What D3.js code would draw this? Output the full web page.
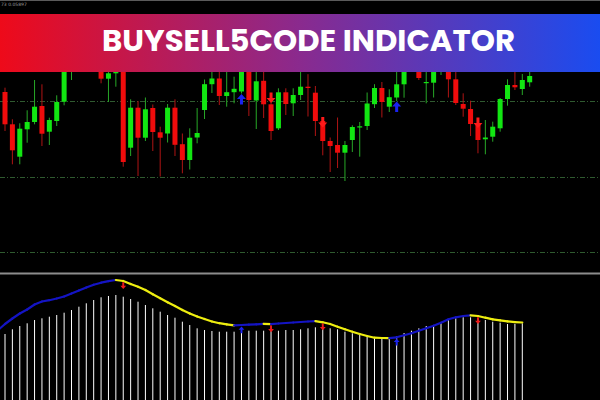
<!DOCTYPE html>
<html>
<head>
<meta charset="utf-8">
<script src="https://cdn.jsdelivr.net/npm/d3@7"></script>
<style>
  body { margin: 0; background: #000; }
  svg { display: block; }
</style>
</head>
<body>
<script>
var width = 600,
    height = 400;

// candles, one entry per bar
var opens = [1.07095, 1.06772, 1.06448, 1.06722, 1.06795, 1.06955, 1.06698, 1.06805, 1.06998, 1.07335,
  1.07565, 1.07435, 1.07595, 1.07395, 1.07228, 1.07282, 1.07415, 1.06538, 1.06938, 1.06638,
  1.06935, 1.06692, 1.06680, 1.06938, 1.06573, 1.06415, 1.06640, 1.06915, 1.07173, 1.07230,
  1.07055, 1.07093, 1.07100, 1.07415, 1.07010, 1.07207, 1.06972, 1.06732, 1.07092, 1.06982,
  1.07065, 1.07148, 1.07088, 1.06805, 1.06605, 1.06565, 1.06488, 1.06615, 1.06740, 1.06755,
  1.06973, 1.07135, 1.06948, 1.07040, 1.07172, 1.07515, 1.07415, 1.07190, 1.07188, 1.07355,
  1.07375, 1.07222, 1.06975, 1.06925, 1.06765, 1.06622, 1.06648, 1.06732, 1.07025, 1.07165,
  1.07125, 1.07192];
var highs = [1.07138, 1.06822, 1.06782, 1.06912, 1.07215, 1.07172, 1.06838, 1.07062, 1.07515, 1.07635,
  1.07665, 1.07695, 1.07665, 1.07495, 1.07415, 1.07435, 1.07515, 1.07022, 1.07005, 1.07040,
  1.06970, 1.06748, 1.06975, 1.07022, 1.06680, 1.06732, 1.06935, 1.07220, 1.07355, 1.07335,
  1.07375, 1.07248, 1.07465, 1.07495, 1.07395, 1.07375, 1.07080, 1.07132, 1.07132, 1.07132,
  1.07415, 1.07273, 1.07155, 1.06835, 1.06640, 1.06840, 1.06605, 1.06762, 1.06795, 1.07090,
  1.07173, 1.07195, 1.07122, 1.07375, 1.07415, 1.07615, 1.07535, 1.07355, 1.07435, 1.07575,
  1.07465, 1.07355, 1.07082, 1.07008, 1.06830, 1.06815, 1.06798, 1.07035, 1.07222, 1.07355,
  1.07275, 1.07315];
var lows = [1.06705, 1.06372, 1.06372, 1.06588, 1.06772, 1.06555, 1.06565, 1.06755, 1.06962, 1.07215,
  1.07365, 1.07355, 1.07335, 1.07182, 1.06995, 1.07148, 1.06348, 1.06455, 1.06255, 1.06605,
  1.06505, 1.06250, 1.06590, 1.06455, 1.06282, 1.06320, 1.06582, 1.06825, 1.07085, 1.06965,
  1.06948, 1.06982, 1.07080, 1.06855, 1.06725, 1.06835, 1.06615, 1.06715, 1.06865, 1.06855,
  1.07015, 1.06850, 1.06655, 1.06462, 1.06295, 1.06335, 1.06205, 1.06495, 1.06448, 1.06715,
  1.06935, 1.06840, 1.06895, 1.07005, 1.07038, 1.07375, 1.07215, 1.06982, 1.07040, 1.07265,
  1.07040, 1.06965, 1.06848, 1.06655, 1.06482, 1.06472, 1.06598, 1.06698, 1.06958, 1.07115,
  1.07065, 1.07148];
var closes = [1.06772, 1.06512, 1.06728, 1.06795, 1.06948, 1.06678, 1.06815, 1.06995, 1.07415, 1.07565,
  1.07465, 1.07615, 1.07415, 1.07228, 1.07282, 1.07355, 1.06395, 1.06938, 1.06638, 1.06922,
  1.06695, 1.06638, 1.06938, 1.06567, 1.06415, 1.06638, 1.06685, 1.07173, 1.07230, 1.07055,
  1.07093, 1.07127, 1.07395, 1.07015, 1.07202, 1.06972, 1.06705, 1.07092, 1.06975, 1.07065,
  1.07148, 1.07135, 1.06805, 1.06605, 1.06555, 1.06488, 1.06565, 1.06745, 1.06752, 1.06980,
  1.07135, 1.06995, 1.07043, 1.07172, 1.07355, 1.07435, 1.07235, 1.07195, 1.07375, 1.07515,
  1.07222, 1.06985, 1.06928, 1.06775, 1.06615, 1.06640, 1.06748, 1.07025, 1.07165, 1.07142,
  1.07215, 1.07255];

var gridLevels = [1.0700, 1.0625, 1.0550];

var buyBars = [32, 53];
var sellBars = [16, 36, 43, 64];

// oscillator histogram, bars 0..70
var histValues = [66, 70.7, 74, 76.7, 80, 81.7, 83.3, 85, 87.3, 90,
  93.3, 96.7, 100, 102.7, 104, 105, 103.3, 101, 98.3, 95,
  91.7, 88.3, 85, 82.3, 78.3, 75, 71.7, 70, 69, 68.3,
  68.3, 68.3, 68.3, 69.3, 69.3, 69.3, 70, 69.3, 70, 70,
  70.7, 71.7, 72.7, 72.3, 71.7, 70.7, 68.3, 66.7, 65, 63.3,
  61.7, 61.5, 62, 64, 67, 69.3, 71.7, 74, 75, 77.3,
  80, 81.7, 82.7, 82.7, 80.7, 80, 78.3, 77.3, 76, 76,
  76.7];

// signal line, bars -1..70 (first point is the bar left of the screen)
var lineStart = -1;
var lineValues = [69.5, 76, 81.5, 86.5, 90.5, 95.5, 98.5, 99.8, 101.5, 103.5,
  106.5, 109.5, 112.5, 115.3, 117.3, 118.8, 120, 119, 116, 113.3,
  110, 105.7, 101.7, 97.7, 94, 90, 86.5, 83.5, 81, 78.5,
  76.8, 75.6, 74.7, 75.0, 75.3, 75.7, 76.2, 75.8, 76.5, 77,
  77.5, 78, 78.5, 78.8, 77.7, 76, 73.3, 70.7, 68.3, 66,
  64, 62.3, 62.0, 61.8, 62.7, 64.7, 66.7, 69.3, 71.7, 74.3,
  77.3, 80.7, 82.7, 84, 84.7, 84, 82.3, 80.7, 79.7, 78.7,
  77.8, 77.5];

var title = "BUYSELL5CODE INDICATOR";
var symbolText = "73 0.05897";

var bull = "#12e612", bullWick = "#27a827",
    bear = "#f00c0c", bearWick = "#b01414";

var x = d3.scaleLinear()
    .domain([0, 70])
    .range([5, 522.3]);

var y = d3.scaleLinear()
    .domain([1.08015, 1.05315])
    .range([0, 270]);

var yOsc = d3.scaleLinear()
    .domain([0, 126])
    .range([400, 274]);

var svg = d3.select("body").append("svg")
    .attr("width", width)
    .attr("height", height);

svg.append("rect")
    .attr("width", width)
    .attr("height", height)
    .attr("fill", "#000");

var defs = svg.append("defs");

defs.append("clipPath")
    .attr("id", "upper")
  .append("rect")
    .attr("width", width)
    .attr("height", 272);

var grad = defs.append("linearGradient")
    .attr("id", "banner")
    .attr("x1", "0%").attr("x2", "100%")
    .attr("y1", "0%").attr("y2", "0%");
grad.selectAll("stop")
    .data([["0%", "#ee0a1a"], ["50%", "#8a2a8e"], ["100%", "#1a4cf0"]])
  .enter().append("stop")
    .attr("offset", function(d) { return d[0]; })
    .attr("stop-color", function(d) { return d[1]; });

// upper pane
var upper = svg.append("g")
    .attr("clip-path", "url(#upper)");

upper.selectAll(".grid")
    .data(gridLevels)
  .enter().append("line")
    .attr("class", "grid")
    .attr("x1", 0)
    .attr("x2", width)
    .attr("y1", function(d) { return Math.round(y(d)) + 0.5; })
    .attr("y2", function(d) { return Math.round(y(d)) + 0.5; })
    .attr("stroke", "#2f5a2f")
    .attr("stroke-dasharray", "5,2,1,2");

var candles = d3.range(opens.length);

upper.selectAll(".wick")
    .data(candles)
  .enter().append("line")
    .attr("class", "wick")
    .attr("x1", function(i) { return x(i); })
    .attr("x2", function(i) { return x(i); })
    .attr("y1", function(i) { return y(highs[i]); })
    .attr("y2", function(i) { return y(lows[i]); })
    .attr("stroke", function(i) { return closes[i] >= opens[i] ? bullWick : bearWick; })
    .attr("stroke-width", 1);

upper.selectAll(".body")
    .data(candles)
  .enter().append("rect")
    .attr("class", "body")
    .attr("x", function(i) { return x(i) - 2.5; })
    .attr("width", 5)
    .attr("y", function(i) { return y(Math.max(opens[i], closes[i])); })
    .attr("height", function(i) { return Math.max(1.2, Math.abs(y(opens[i]) - y(closes[i]))); })
    .attr("fill", function(i) { return closes[i] >= opens[i] ? bull : bear; });

// arrow pointing up, tip at the origin
var arrowUp = "M0,0L4.5,5L1.5,5L1.5,10.5L-1.5,10.5L-1.5,5L-4.5,5Z";

upper.selectAll(".buy")
    .data(buyBars)
  .enter().append("path")
    .attr("class", "buy")
    .attr("d", arrowUp)
    .attr("fill", "#1a22f0")
    .attr("transform", function(i) { return "translate(" + x(i) + "," + (y(lows[i]) + 0.5) + ")"; });

upper.selectAll(".sell")
    .data(sellBars)
  .enter().append("path")
    .attr("class", "sell")
    .attr("d", arrowUp)
    .attr("fill", "#ff1a1a")
    .attr("transform", function(i) { return "translate(" + x(i) + "," + (y(highs[i]) + 9.5) + ") scale(1,-1)"; });

// pane separator
svg.append("line")
    .attr("x1", 0).attr("x2", width)
    .attr("y1", 273.5).attr("y2", 273.5)
    .attr("stroke", "#8c8c8c")
    .attr("stroke-width", 2);

// lower pane
var lower = svg.append("g");

lower.selectAll(".hist")
    .data(histValues)
  .enter().append("line")
    .attr("class", "hist")
    .attr("x1", function(d, i) { return x(i); })
    .attr("x2", function(d, i) { return x(i); })
    .attr("y1", function(d) { return yOsc(d); })
    .attr("y2", height)
    .attr("stroke", "#fff")
    .attr("stroke-width", 1);

var segments = d3.range(1, lineValues.length).map(function(k) {
  return {
    a: [x(k - 1 + lineStart), yOsc(lineValues[k - 1])],
    b: [x(k + lineStart), yOsc(lineValues[k])],
    up: lineValues[k] >= lineValues[k - 1]
  };
});

lower.selectAll(".seg")
    .data(segments)
  .enter().append("line")
    .attr("class", "seg")
    .attr("x1", function(d) { return d.a[0]; })
    .attr("y1", function(d) { return d.a[1]; })
    .attr("x2", function(d) { return d.b[0]; })
    .attr("y2", function(d) { return d.b[1]; })
    .attr("stroke", function(d) { return d.up ? "#1414c4" : "#eeee10"; })
    .attr("stroke-width", 2.2)
    .attr("stroke-linecap", "round");

function lineAt(i) { return yOsc(lineValues[i - lineStart]); }

lower.selectAll(".buyMark")
    .data(buyBars)
  .enter().append("path")
    .attr("class", "buyMark")
    .attr("d", arrowUp)
    .attr("fill", "#1a22f0")
    .attr("transform", function(i) { return "translate(" + x(i) + "," + (lineAt(i) + 1.5) + ") scale(0.65)"; });

lower.selectAll(".sellMark")
    .data(sellBars)
  .enter().append("path")
    .attr("class", "sellMark")
    .attr("d", arrowUp)
    .attr("fill", "#f01a1a")
    .attr("transform", function(i) { return "translate(" + x(i) + "," + (lineAt(i) + 8) + ") scale(0.65,-0.65)"; });

// top strip and banner
svg.append("rect")
    .attr("width", width)
    .attr("height", 14)
    .attr("fill", "#000");

svg.append("line")
    .attr("x1", 0).attr("x2", width)
    .attr("y1", 0.5).attr("y2", 0.5)
    .attr("stroke", "#5a5a5a");

svg.append("text")
    .attr("x", 1)
    .attr("y", 6)
    .attr("font-family", "DejaVu Sans, sans-serif")
    .attr("font-size", 4.5)
    .attr("fill", "#9a9a9a")
    .text(symbolText);

svg.append("rect")
    .attr("y", 14)
    .attr("width", width)
    .attr("height", 58)
    .attr("fill", "url(#banner)");

svg.append("text")
    .attr("x", 308.5)
    .attr("y", 50.5)
    .attr("text-anchor", "middle")
    .attr("font-family", "Poppins, 'Open Sans', sans-serif")
    .attr("font-weight", 700)
    .attr("font-size", 30)
    .attr("textLength", 413)
    .attr("lengthAdjust", "spacingAndGlyphs")
    .attr("fill", "#fff")
    .text(title);
</script>
</body>
</html>
